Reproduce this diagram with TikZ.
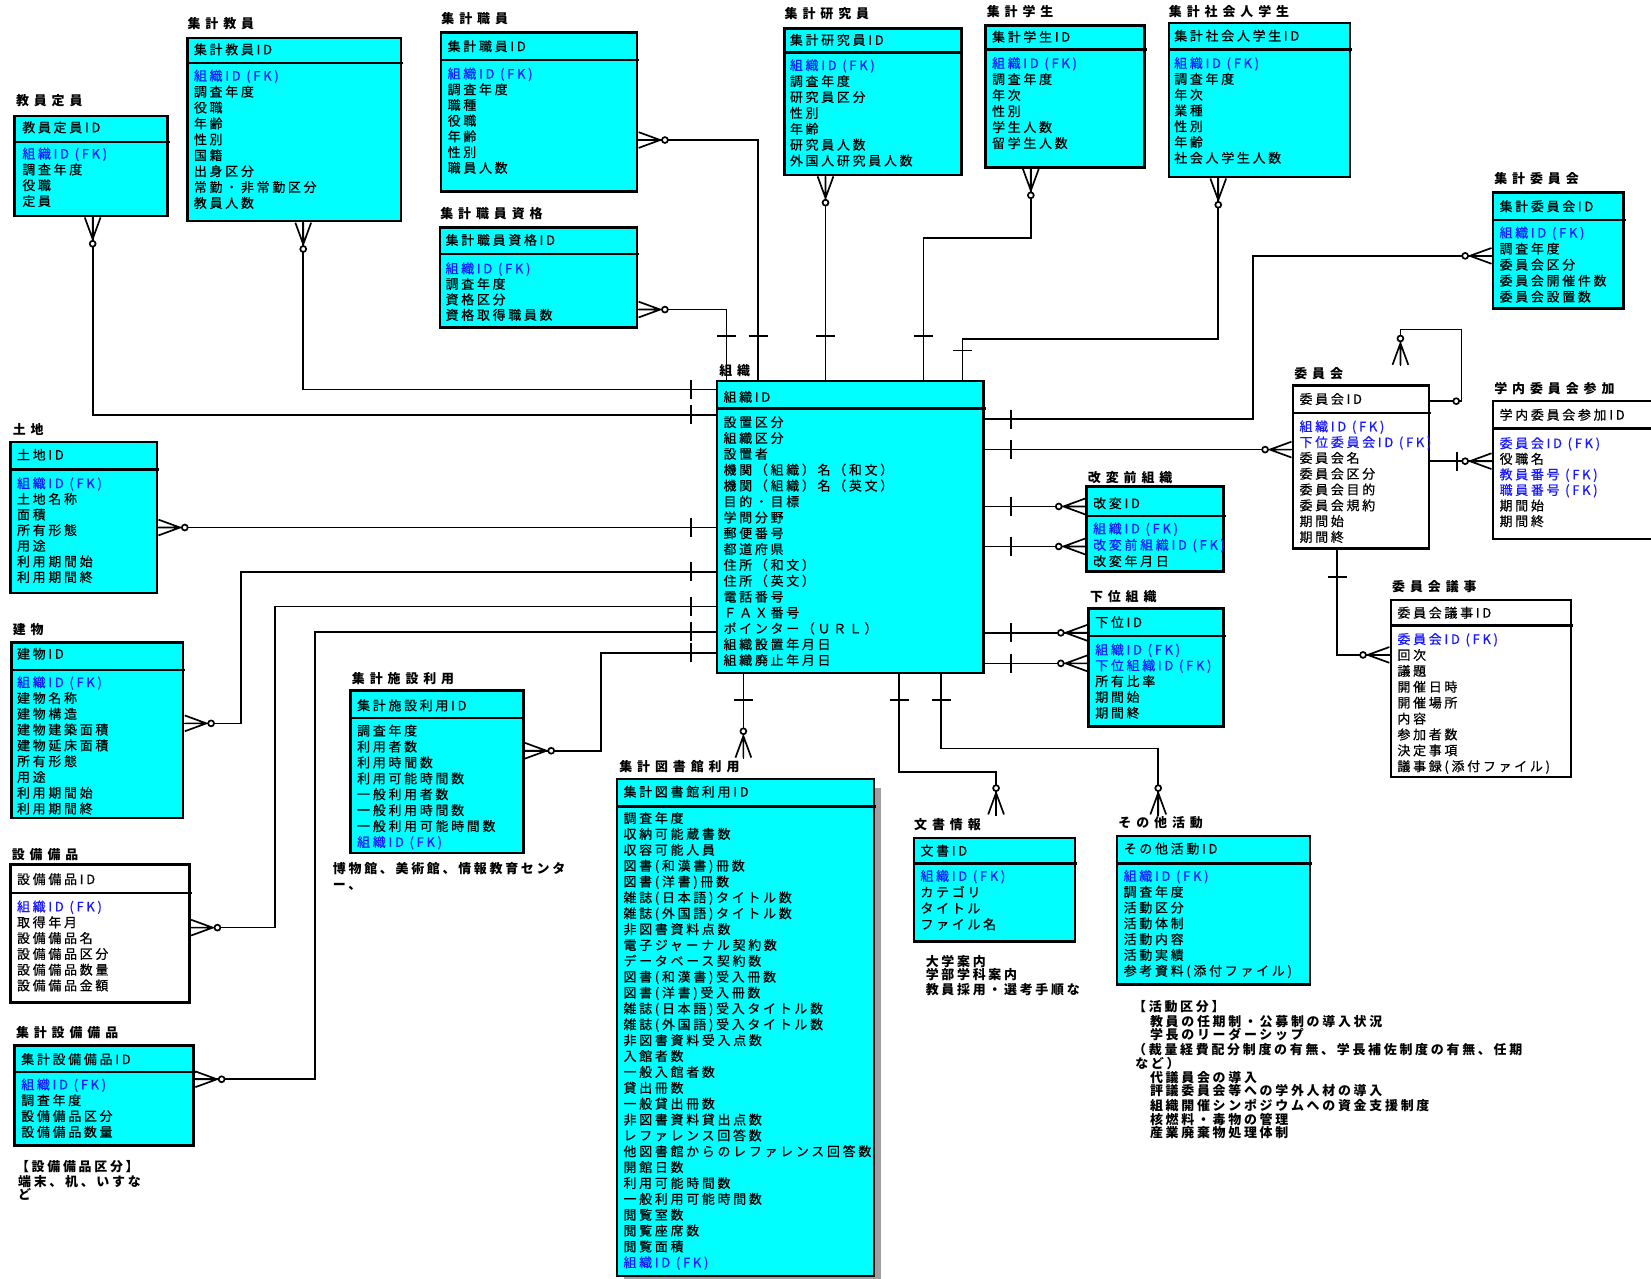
\documentclass[tikz,border=0pt]{standalone}
\usepackage{fontspec}
\newfontfamily\jp[LetterSpace=21,FakeBold=0.6]{Noto Sans CJK JP}
\newfontfamily\jpt[LetterSpace=38]{Noto Sans CJK JP}
\newfontfamily\jpn[LetterSpace=21]{Noto Sans CJK JP}
\definecolor{ecyan}{RGB}{0,255,255}
\definecolor{fkblue}{RGB}{25,25,255}
\newcommand\fk[1]{\textcolor{fkblue}{#1}}
\tikzset{
  rel/.style={line width=1.6pt, draw=black},
  boxline/.style={line width=2.2pt, draw=black},
  ebox/.style={draw=black, line width=2.4pt, inner sep=0pt, outer sep=0pt},
  attr/.style={font=\jp\fontsize{12.3}{15}\selectfont, inner sep=0pt, anchor=base west, text=black},
  etitle/.style={font=\jpt\bfseries\fontsize{12.3}{15}\selectfont, inner sep=0pt, anchor=base west},
  enote/.style={font=\jpn\bfseries\fontsize{12.3}{15}\selectfont, inner sep=0pt, anchor=base west},
  pics/crow/.style={code={
    \draw[rel] (1.5,-7.5) -- (22,0) (1.5,7.5) -- (22,0) (1.5,0) -- (26.5,0);
    \draw[rel, fill=white] (26.5,0) circle (2.8pt);
  }},
  pics/tick/.style={code={\draw[rel] (0,-9) -- (0,9);}},
}
\newcommand\ebox[7]{%
  \node[ebox, fill=#6, minimum width={(#4-#2)*1pt}, minimum height={(#5-#3)*1pt}, anchor=north west] (#1) at (#2,#3) {};
  \draw[boxline] (#2,#7) -- ({#4+2},#7);
}
\newcommand\etit[4]{\node[etitle] (#1-t) at ({#2},{#3+4.6}) {#4};}
\newcommand\ehead[4]{\node[attr] (#1-h) at ({#2},{#3+4.6}) {#4};}
\newcommand\eattrs[5]{%
  \foreach \atxt [count=\n] in {#5} {
    \node[attr] (#1-a\n) at ({#2},{#3+4.6+(\n-1)*#4}) {\atxt};
  }
}
\begin{document}
\begin{tikzpicture}[x=1pt,y=-1pt]
\useasboundingbox (0,0) rectangle (1568,1214);

% ---------- entities ----------
\ebox{kt}{14}{110}{159}{205}{ecyan}{135}
\etit{kt}{15}{96}{教員定員}
\ehead{kt}{21}{121}{教員定員ID}
\eattrs{kt}{21}{146}{15}{\fk{組織ID (FK)},調査年度,役職,定員}

\ebox{sk}{178}{36}{381}{210}{ecyan}{60}
\etit{sk}{178}{22}{集計教員}
\ehead{sk}{184}{47}{集計教員ID}
\eattrs{sk}{184}{72}{15.1}{\fk{組織ID (FK)},調査年度,役職,年齢,性別,国籍,出身区分,常勤・非常勤区分,教員人数}

\ebox{ss}{419}{31}{605}{182}{ecyan}{57}
\etit{ss}{419}{18}{集計職員}
\ehead{ss}{425}{44}{集計職員ID}
\eattrs{ss}{425}{70}{14.9}{\fk{組織ID (FK)},調査年度,職種,役職,年齢,性別,職員人数}

\ebox{ssq}{418}{216}{605}{311}{ecyan}{241}
\etit{ssq}{418}{203}{集計職員資格}
\ehead{ssq}{423}{228}{集計職員資格ID}
\eattrs{ssq}{423}{255}{14.7}{\fk{組織ID (FK)},調査年度,資格区分,資格取得職員数}

\ebox{skk}{745}{27}{913}{166}{ecyan}{50}
\etit{skk}{745}{13}{集計研究員}
\ehead{skk}{750}{38}{集計研究員ID}
\eattrs{skk}{750}{62}{15.1}{\fk{組織ID (FK)},調査年度,研究員区分,性別,年齢,研究員人数,外国人研究員人数}

\ebox{sg}{936}{24}{1087}{159}{ecyan}{47}
\etit{sg}{937}{11}{集計学生}
\ehead{sg}{942}{35}{集計学生ID}
\eattrs{sg}{942}{60}{15.2}{\fk{組織ID (FK)},調査年度,年次,性別,学生人数,留学生人数}

\ebox{ssg}{1110}{22}{1282}{168}{ecyan}{47}
\etit{ssg}{1110}{11}{集計社会人学生}
\ehead{ssg}{1115}{34}{集計社会人学生ID}
\eattrs{ssg}{1115}{60}{15}{\fk{組織ID (FK)},調査年度,年次,業種,性別,年齢,社会人学生人数}

\ebox{siin}{1418}{183}{1542}{293}{ecyan}{209}
\etit{siin}{1419}{170}{集計委員会}
\ehead{siin}{1424}{196}{集計委員会ID}
\eattrs{siin}{1424}{221}{15.2}{\fk{組織ID (FK)},調査年度,委員会区分,委員会開催件数,委員会設置数}

\ebox{org}{681}{362}{934}{639}{ecyan}{388}
\etit{org}{683}{352}{組織}
\ehead{org}{687}{377}{組織ID}
\eattrs{org}{687}{401}{15.07}{設置区分,組織区分,設置者,機関（組織）名（和文）,機関（組織）名（英文）,目的・目標,学問分野,郵便番号,都道府県,住所（和文）,住所（英文）,電話番号,ＦＡＸ番号,ポインター（ＵＲＬ）,組織設置年月日,組織廃止年月日}

\ebox{iin}{1228}{366}{1357}{521}{white}{392}
\etit{iin}{1229}{355}{委員会}
\ehead{iin}{1234}{379}{委員会ID}
\eattrs{iin}{1234}{405}{15}{\fk{組織ID (FK)},\fk{下位委員会ID (FK)},委員会名,委員会区分,委員会目的,委員会規約,期間始,期間終}

\ebox{gsan}{1418}{381}{1580}{512}{white}{407}
\etit{gsan}{1419}{369}{学内委員会参加}
\ehead{gsan}{1424}{394}{学内委員会参加ID}
\eattrs{gsan}{1424}{421}{14.8}{\fk{委員会ID (FK)},役職名,\fk{教員番号 (FK)},\fk{職員番号 (FK)},期間始,期間終}

\ebox{kh}{1032}{462}{1162}{543}{ecyan}{490}
\etit{kh}{1033}{454}{改変前組織}
\ehead{kh}{1038}{478}{改変ID}
\eattrs{kh}{1038}{502}{15.5}{\fk{組織ID (FK)},\fk{改変前組織ID (FK)},改変年月日}

\ebox{ki}{1034}{578}{1162}{690}{ecyan}{604}
\etit{ki}{1035}{567}{下位組織}
\ehead{ki}{1040}{591}{下位ID}
\eattrs{ki}{1040}{617}{15}{\fk{組織ID (FK)},\fk{下位組織ID (FK)},所有比率,期間始,期間終}

\ebox{giji}{1321}{570}{1492}{738}{white}{594}
\etit{giji}{1322}{557}{委員会議事}
\ehead{giji}{1327}{582}{委員会議事ID}
\eattrs{giji}{1327}{607}{15.1}{\fk{委員会ID (FK)},回次,議題,開催日時,開催場所,内容,参加者数,決定事項,議事録(添付ファイル)}

\ebox{tochi}{10}{420}{149}{563}{ecyan}{446}
\etit{tochi}{12}{408}{土地}
\ehead{tochi}{16}{432}{土地ID}
\eattrs{tochi}{16}{459}{14.85}{\fk{組織ID (FK)},土地名称,面積,所有形態,用途,利用期間始,利用期間終}

\ebox{tate}{11}{610}{174}{777}{ecyan}{636}
\etit{tate}{12}{598}{建物}
\ehead{tate}{16}{621}{建物ID}
\eattrs{tate}{16}{648}{15}{\fk{組織ID (FK)},建物名称,建物構造,建物建築面積,建物延床面積,所有形態,用途,利用期間始,利用期間終}

\ebox{sb}{10}{821}{180}{952}{white}{848}
\etit{sb}{11}{812}{設備備品}
\ehead{sb}{16}{835}{設備備品ID}
\eattrs{sb}{16}{861}{15}{\fk{組織ID (FK)},取得年月,設備備品名,設備備品区分,設備備品数量,設備備品金額}

\ebox{ssb}{14}{993}{184}{1088}{ecyan}{1018}
\etit{ssb}{15}{981}{集計設備備品}
\ehead{ssb}{20}{1006}{集計設備備品ID}
\eattrs{ssb}{20}{1030}{15}{\fk{組織ID (FK)},調査年度,設備備品区分,設備備品数量}

\ebox{ssr}{333}{656}{497}{810}{ecyan}{682}
\etit{ssr}{334}{645}{集計施設利用}
\ehead{ssr}{339}{670}{集計施設利用ID}
\eattrs{ssr}{339}{694}{15.1}{調査年度,利用者数,利用時間数,利用可能時間数,一般利用者数,一般利用時間数,一般利用可能時間数,\fk{組織ID (FK)}}

\fill[gray!75] (593,748) rectangle (837,1222);
\ebox{stl}{586}{740}{830}{1212}{ecyan}{766}
\etit{stl}{588}{728}{集計図書館利用}
\ehead{stl}{592}{752}{集計図書館利用ID}
\eattrs{stl}{592}{777}{15.07}{調査年度,収納可能蔵書数,収容可能人員,図書(和漢書)冊数,図書(洋書)冊数,雑誌(日本語)タイトル数,雑誌(外国語)タイトル数,非図書資料点数,電子ジャーナル契約数,データベース契約数,図書(和漢書)受入冊数,図書(洋書)受入冊数,雑誌(日本語)受入タイトル数,雑誌(外国語)受入タイトル数,非図書資料受入点数,入館者数,一般入館者数,貸出冊数,一般貸出冊数,非図書資料貸出点数,レファレンス回答数,他図書館からのレファレンス回答数,開館日数,利用可能時間数,一般利用可能時間数,閲覧室数,閲覧座席数,閲覧面積,\fk{組織ID (FK)}}

\ebox{bun}{868}{796}{1021}{894}{ecyan}{820}
\etit{bun}{868}{783}{文書情報}
\ehead{bun}{874}{808}{文書ID}
\eattrs{bun}{874}{832}{15.3}{\fk{組織ID (FK)},カテゴリ,タイトル,ファイル名}

\ebox{son}{1061}{794}{1244}{935}{ecyan}{820}
\etit{son}{1062}{781}{その他活動}
\ehead{son}{1067}{806}{その他活動ID}
\eattrs{son}{1067}{832}{15}{\fk{組織ID (FK)},調査年度,活動区分,活動体制,活動内容,活動実績,参考資料(添付ファイル)}

% ---------- notes ----------
\node[enote] (n1a) at (316,829.6) {博物館、美術館、情報教育センタ};
\node[enote] (n1b) at (316,844.6) {ー、};
\node[enote] (n2a) at (15,1112.6) {【設備備品区分】};
\node[enote] (n2b) at (17,1126.6) {端末、机、いすな};
\node[enote] (n2c) at (17,1139.6) {ど};
\node[enote] (n3a) at (879,917.6) {大学案内};
\node[enote] (n3b) at (879,930.6) {学部学科案内};
\node[enote] (n3c) at (879,944.6) {教員採用・選考手順な};
\node[enote] (n4a) at (1076,960.6) {【活動区分】};
\node[enote] (n4b) at (1092,974.6) {教員の任期制・公募制の導入状況};
\node[enote] (n4c) at (1092,987.6) {学長のリーダーシップ};
\node[enote] (n4d) at (1076,1001.6) {（裁量経費配分制度の有無、学長補佐制度の有無、任期};
\node[enote] (n4e) at (1078,1014.6) {など）};
\node[enote] (n4f) at (1092,1027.6) {代議員会の導入};
\node[enote] (n4g) at (1092,1040.6) {評議委員会等への学外人材の導入};
\node[enote] (n4h) at (1092,1054.6) {組織開催シンポジウムへの資金支援制度};
\node[enote] (n4i) at (1092,1067.6) {核燃料・毒物の管理};
\node[enote] (n4j) at (1092,1080.6) {産業廃棄物処理体制};

% ---------- connectors ----------
\draw[rel] (kt.south -| 88,0) |- (org.west |- 0,394);
\draw[rel] (sk.south -| 288,0) |- (org.west |- 0,370);
\draw[rel] (tochi.east |- 0,501) -- (org.west |- 0,501);
\draw[rel] (tate.east |- 0,687) -| (229,543) -- (org.west |- 0,543);
\draw[rel] (sb.east |- 0,881) -| (261,576) -- (org.west |- 0,576);
\draw[rel] (ssb.east |- 0,1025) -| (299,600) -- (org.west |- 0,600);
\draw[rel] (ssr.east |- 0,713) -| (571,620) -- (org.west |- 0,620);
\draw[rel] (ss.east |- 0,133) -| (org.north -| 720,0);
\draw[rel] (ssq.east |- 0,294) -| (org.north -| 690,0);
\draw[rel] (skk.south -| 784,0) -- (org.north -| 784,0);
\draw[rel] (sg.south -| 979,0) |- (877,226) -- (org.north -| 877,0);
\draw[rel] (ssg.south -| 1157,0) |- (914,322) -- (org.north -| 914,0);
\draw[rel] (org.east |- 0,398) -| (1190,243) -- (siin.west |- 0,243);
\draw[rel] (org.east |- 0,427) -- (iin.west |- 0,427);
\draw[rel] (org.east |- 0,481) -- (kh.west |- 0,481);
\draw[rel] (org.east |- 0,519) -- (kh.west |- 0,519);
\draw[rel] (org.east |- 0,601) -- (ki.west |- 0,601);
\draw[rel] (org.east |- 0,630) -- (ki.west |- 0,630);
\coordinate (stl-c) at (706,721);
\draw[rel] (org.south -| 706,0) -- (stl-c);
\coordinate (bun-c) at (946,775);
\draw[rel] (org.south -| 854,0) |- (946,733) -- (bun-c);
\coordinate (son-c) at (1100,775);
\draw[rel] (org.south -| 894,0) |- (1100,711) -- (son-c);
\coordinate (iin-c) at (1330,348);
\draw[rel] (iin.east |- 0,381) -- (1388,381) |- (1330,313) -- (iin-c);
\draw[rel] (iin.east |- 0,438) -- (gsan.west |- 0,438);
\draw[rel] (iin.south -| 1270,0) |- (giji.west |- 0,622);

% ---------- crow's feet ----------
\pic[rotate=-90] at (kt.south -| 88,0) {crow};
\pic[rotate=-90] at (sk.south -| 288,0) {crow};
\pic at (tochi.east |- 0,501) {crow};
\pic at (tate.east |- 0,687) {crow};
\pic at (sb.east |- 0,881) {crow};
\pic at (ssb.east |- 0,1025) {crow};
\pic at (ssr.east |- 0,713) {crow};
\pic at (ss.east |- 0,133) {crow};
\pic at (ssq.east |- 0,294) {crow};
\pic[rotate=-90] at (skk.south -| 784,0) {crow};
\pic[rotate=-90] at (sg.south -| 979,0) {crow};
\pic[rotate=-90] at (ssg.south -| 1157,0) {crow};
\pic[rotate=180] at (siin.west |- 0,243) {crow};
\pic[rotate=180] at (iin.west |- 0,427) {crow};
\pic[rotate=180] at (kh.west |- 0,481) {crow};
\pic[rotate=180] at (kh.west |- 0,519) {crow};
\pic[rotate=180] at (ki.west |- 0,601) {crow};
\pic[rotate=180] at (ki.west |- 0,630) {crow};
\pic[rotate=90] at (stl-c) {crow};
\pic[rotate=90] at (bun-c) {crow};
\pic[rotate=90] at (son-c) {crow};
\pic[rotate=90] at (iin-c) {crow};
\pic[rotate=180] at (gsan.west |- 0,438) {crow};
\pic[rotate=180] at (giji.west |- 0,622) {crow};
\draw[rel, fill=white] (1383,381) circle (2.8pt);

% ---------- one-bars ----------
\foreach \yy in {370,394,501,543,576,600,620} \pic at (656,\yy) {tick};
\foreach \yy in {398,427,481,519,601,630} \pic at (960,\yy) {tick};
\foreach \xx in {690,720,784,877} \pic[rotate=90] at (\xx,319) {tick};
\pic[rotate=90] at (914,333) {tick};
\foreach \xx in {706,854,894} \pic[rotate=90] at (\xx,665) {tick};
\pic at (1384,438) {tick};
\pic[rotate=90] at (1270,548) {tick};
\end{tikzpicture}
\end{document}
